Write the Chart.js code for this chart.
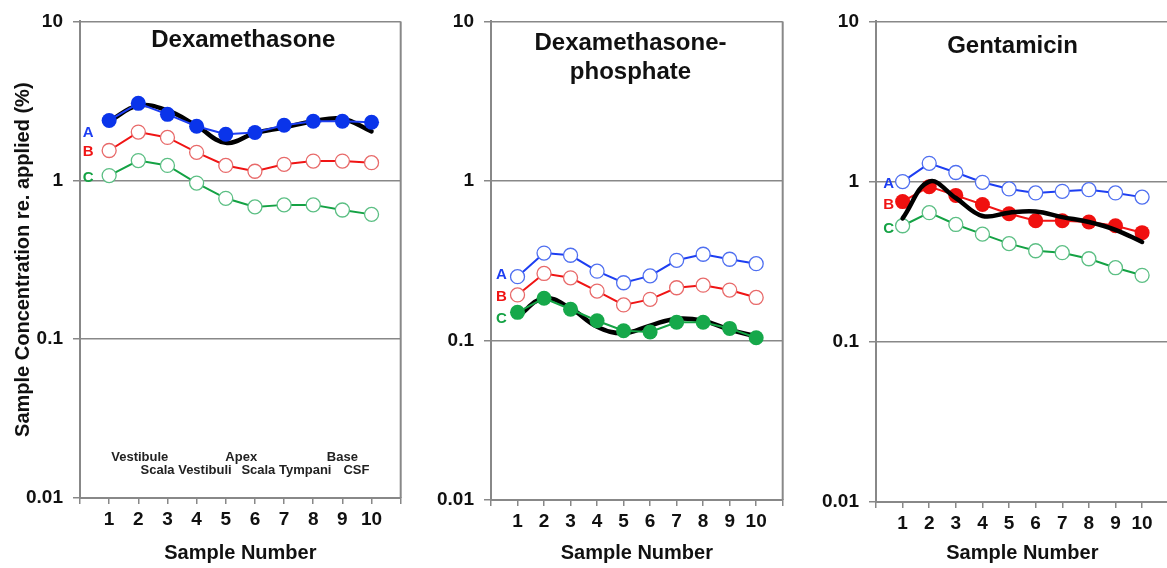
<!DOCTYPE html>
<html>
<head>
<meta charset="utf-8">
<script src="https://cdn.jsdelivr.net/npm/chart.js@4.4.1/dist/chart.umd.min.js"></script>
<style>
  html, body { margin: 0; padding: 0; background: #fff; overflow: hidden; }
  .panel { position: absolute; top: 0; height: 568px; }
</style>
</head>
<body>
<div class="panel" style="left:0;width:409px"><canvas id="dexChart" width="409" height="568"></canvas></div>
<div class="panel" style="left:420px;width:371px"><canvas id="dexpChart" width="371" height="568"></canvas></div>
<div class="panel" style="left:805px;width:372px"><canvas id="gentChart" width="372" height="568"></canvas></div>
<script>
// sample positions along the cochlea
const sampleNumbers = [1, 2, 3, 4, 5, 6, 7, 8, 9, 10];

// Dexamethasone
const dexA   = [2.38, 3.05, 2.60, 2.19, 1.95, 2.00, 2.22, 2.35, 2.35, 2.32];
const dexB   = [1.54, 2.01, 1.86, 1.50, 1.24, 1.14, 1.26, 1.32, 1.32, 1.29];
const dexC   = [1.07, 1.33, 1.24, 0.96, 0.77, 0.68, 0.70, 0.70, 0.65, 0.61];
const dexFit = [2.35, 2.95, 2.75, 2.20, 1.72, 1.98, 2.15, 2.35, 2.44, 2.03];

// Dexamethasone-phosphate
const dexpA   = [0.251, 0.353, 0.342, 0.272, 0.230, 0.254, 0.318, 0.347, 0.323, 0.303];
const dexpB   = [0.193, 0.263, 0.247, 0.204, 0.167, 0.181, 0.214, 0.222, 0.207, 0.186];
const dexpC   = [0.150, 0.184, 0.157, 0.133, 0.115, 0.113, 0.130, 0.130, 0.119, 0.104];
const dexpFit = [0.141, 0.184, 0.159, 0.122, 0.111, 0.124, 0.137, 0.133, 0.117, 0.106];

// Gentamicin
const gentA   = [1.00, 1.30, 1.14, 0.99, 0.90, 0.85, 0.87, 0.89, 0.85, 0.80];
const gentB   = [0.75, 0.93, 0.82, 0.72, 0.63, 0.57, 0.57, 0.56, 0.53, 0.48];
const gentC   = [0.53, 0.64, 0.54, 0.47, 0.41, 0.37, 0.36, 0.33, 0.29, 0.26];
const gentFit = [0.59, 1.00, 0.79, 0.61, 0.64, 0.65, 0.60, 0.56, 0.50, 0.42];

const yTickValues = [0.01, 0.1, 1, 10];
const yTickLabels = ['0.01', '0.1', '1', '10'];
const seriesLetters = ['A', 'B', 'C'];

// anatomical regions written under the first panel
const regionNames = ['Vestibule', 'Scala Vestibuli', 'Apex', 'Scala Tympani', 'Base', 'CSF'];
const regionX     = [2.05, 3.64, 5.53, 7.08, 9.0, 9.48];
const regionY     = [0.018, 0.015, 0.018, 0.015, 0.018, 0.015];

const FONT = '"Liberation Sans", Arial, sans-serif';
const AXIS_GREY = '#888';
const COLORS = {
  A: { line: '#1d3ef2', fill: '#0a34ea', ring: '#4f6ff0' },
  B: { line: '#f01414', fill: '#f0100f', ring: '#e86a6a' },
  C: { line: '#14a244', fill: '#16a84a', ring: '#5cbf84' }
};

function points(values) {
  return values.map((v, i) => ({ x: sampleNumbers[i], y: v }));
}

function seriesDataset(values, letter, filled, order) {
  const c = COLORS[letter];
  return {
    data: points(values),
    borderColor: c.line,
    borderWidth: 2,
    tension: 0,
    pointRadius: filled ? 7.5 : 7,
    pointBackgroundColor: filled ? c.fill : '#fff',
    pointBorderColor: filled ? c.fill : c.ring,
    pointBorderWidth: filled ? 0 : 1.3,
    seriesLetter: letter,
    order: order
  };
}

function fitDataset(values, order) {
  return {
    data: points(values),
    borderColor: '#000',
    borderWidth: 4.5,
    borderCapStyle: 'round',
    tension: 0.4,
    pointRadius: 0,
    order: order
  };
}

// frame, panel title, A/B/C tags and region names
const panelDecor = {
  id: 'panelDecor',
  beforeDatasetsDraw(chart, args, opts) {
    const { ctx, chartArea } = chart;
    if (opts.frame) {
      ctx.save();
      ctx.strokeStyle = AXIS_GREY;
      ctx.lineWidth = 2;
      ctx.beginPath();
      ctx.moveTo(chartArea.right, chartArea.top);
      ctx.lineTo(chartArea.right, chartArea.bottom);
      ctx.stroke();
      ctx.restore();
    }
  },
  afterDatasetsDraw(chart, args, opts) {
    const { ctx, chartArea, scales } = chart;
    ctx.save();
    ctx.textAlign = 'center';
    ctx.textBaseline = 'middle';

    // title
    ctx.fillStyle = '#111';
    ctx.font = 'bold 24px ' + FONT;
    const tx = scales.x.getPixelForValue(opts.titleX);
    opts.title.forEach((line, i) => {
      ctx.fillText(line, tx, chartArea.top + opts.titleY[i]);
    });

    // series tags next to first points
    ctx.font = 'bold 15px ' + FONT;
    chart.data.datasets.forEach((ds, i) => {
      if (!ds.seriesLetter) return;
      const k = seriesLetters.indexOf(ds.seriesLetter);
      const p = chart.getDatasetMeta(i).data[0];
      ctx.fillStyle = COLORS[ds.seriesLetter].line;
      ctx.fillText(ds.seriesLetter, p.x + opts.tagDx, p.y + opts.tagDy[k]);
    });

    if (opts.regions) {
      ctx.fillStyle = '#222';
      ctx.font = 'bold 13px ' + FONT;
      regionNames.forEach((name, i) => {
        ctx.fillText(name, scales.x.getPixelForValue(regionX[i]), scales.y.getPixelForValue(regionY[i]));
      });
    }
    ctx.restore();
  }
};

function makePanel(id, datasets, layout, decor, showYTitle) {
  new Chart(document.getElementById(id), {
    type: 'line',
    data: { datasets },
    plugins: [panelDecor],
    options: {
      responsive: false,
      animation: false,
      layout: { padding: { top: layout.top, right: 0, bottom: 0, left: 0 } },
      plugins: {
        legend: { display: false },
        tooltip: { enabled: false },
        panelDecor: decor
      },
      scales: {
        x: {
          type: 'linear',
          min: 0,
          max: 11,
          afterBuildTicks: s => { s.ticks = [0].concat(sampleNumbers, [11]).map(v => ({ value: v })); },
          afterFit: s => { s.height = layout.xHeight; },
          grid: { drawOnChartArea: false, drawTicks: true, tickLength: 6, color: AXIS_GREY, lineWidth: 1.5 },
          border: { color: AXIS_GREY, width: 2 },
          ticks: {
            autoSkip: false,
            maxRotation: 0,
            padding: 4,
            color: '#111',
            font: { family: FONT, size: 19, weight: 'bold' },
            callback: v => sampleNumbers.includes(v) ? String(v) : ''
          },
          title: {
            display: true,
            text: 'Sample Number',
            color: '#111',
            font: { family: FONT, size: 20, weight: 'bold' },
            padding: { top: 0, bottom: 3 }
          }
        },
        y: {
          type: 'logarithmic',
          min: 0.01,
          max: 10,
          afterBuildTicks: s => { s.ticks = yTickValues.map(v => ({ value: v })); },
          afterFit: s => { s.width = layout.yWidth; },
          grid: { color: AXIS_GREY, lineWidth: 1.5, tickLength: 7, drawTicks: true },
          border: { color: AXIS_GREY, width: 2 },
          ticks: {
            padding: 10,
            color: '#111',
            font: { family: FONT, size: 19, weight: 'bold' },
            callback: (v, i) => yTickLabels[i]
          },
          title: {
            display: showYTitle,
            text: 'Sample Concentration re. applied (%)',
            color: '#111',
            font: { family: FONT, size: 20, weight: 'bold' },
            padding: { top: 11, bottom: 0 }
          }
        }
      }
    }
  });
}

makePanel('dexChart', [
  seriesDataset(dexA, 'A', true, 0),
  fitDataset(dexFit, 1),
  seriesDataset(dexB, 'B', false, 2),
  seriesDataset(dexC, 'C', false, 3)
], { top: 20, xHeight: 70, yWidth: 80 },
{ frame: true, title: ['Dexamethasone'], titleX: 5.6, titleY: [19], tagDx: -21, tagDy: [12, 1, 2], regions: true }, true);

makePanel('dexpChart', [
  seriesDataset(dexpC, 'C', true, 0),
  fitDataset(dexpFit, 1),
  seriesDataset(dexpA, 'A', false, 2),
  seriesDataset(dexpB, 'B', false, 3)
], { top: 18, xHeight: 68, yWidth: 71 },
{ frame: true, title: ['Dexamethasone-', 'phosphate'], titleX: 5.26, titleY: [22, 51], tagDx: -16, tagDy: [-2, 2, 6], regions: false }, false);

makePanel('gentChart', [
  fitDataset(gentFit, 0),
  seriesDataset(gentB, 'B', true, 1),
  seriesDataset(gentA, 'A', false, 2),
  seriesDataset(gentC, 'C', false, 3)
], { top: 18, xHeight: 66, yWidth: 71 },
{ frame: false, title: ['Gentamicin'], titleX: 5.13, titleY: [24.5], tagDx: -14, tagDy: [2, 3, 3], regions: false }, false);
</script>
</body>
</html>
